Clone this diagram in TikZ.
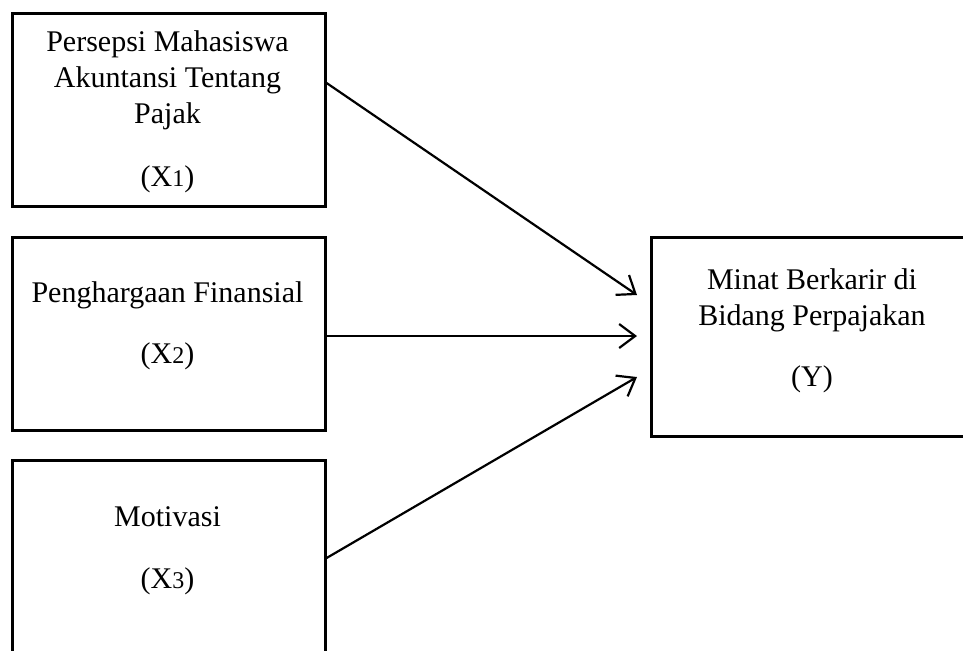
\documentclass[tikz,border=0pt]{standalone}
\usepackage{fontspec}
\setmainfont{Liberation Serif}
\usetikzlibrary{arrows.meta}
\newcommand{\subdig}[1]{{\fontsize{12pt}{12pt}\selectfont #1}}
\begin{document}
\begin{tikzpicture}[x=0.5pt,y=-0.5pt,
  box/.style={draw, line width=1.3pt, inner sep=0pt, anchor=north west},
  lbl/.style={font=\fontsize{15pt}{18pt}\selectfont, align=center, inner sep=0pt, anchor=base},
  conn/.style={line width=1.1pt, -{Straight Barb[length=8pt,width=12pt,line width=1.1pt]}}]
\useasboundingbox (0,0) rectangle (963,650);
\clip (0,0) rectangle (963,650);
% boxes
\node[box, minimum width=156.5pt, minimum height=96.5pt] (b1) at (11,12) {};
\node[box, minimum width=156.5pt, minimum height=96.5pt] (b2) at (11,236) {};
\node[box, minimum width=156.5pt, minimum height=110pt] (b3) at (11,459) {};
\node[box, minimum width=160pt, minimum height=99.5pt] (by) at (650,236) {};
% texts (base anchor = baseline of last line)
\node[lbl] (t1) at (167.5,123) {Persepsi Mahasiswa\\Akuntansi Tentang\\Pajak};
\node[lbl] (c1) at (167.5,186) {(X\subdig{1})};
\node[lbl] (t2) at (167.5,302) {Penghargaan Finansial};
\node[lbl] (c2) at (167.5,363) {(X\subdig{2})};
\node[lbl] (t3) at (167.5,526) {Motivasi};
\node[lbl] (c3) at (167.5,588) {(X\subdig{3})};
\node[lbl] (ty) at (812,325) {Minat Berkarir di\\Bidang Perpajakan};
\node[lbl] (cy) at (812,386) {(Y)};
% connector end points
\coordinate (s1) at (b1.east |- 0,83);
\coordinate (s2) at (b2.east |- 0,336);
\coordinate (s3) at (b3.east |- 0,558);
\coordinate (e1) at (637,295);
\coordinate (e2) at (637,336);
\coordinate (e3) at (637,377);
\draw[conn] (s1) -- (e1);
\draw[conn] (s2) -- (e2);
\draw[conn] (s3) -- (e3);
\end{tikzpicture}
\end{document}
